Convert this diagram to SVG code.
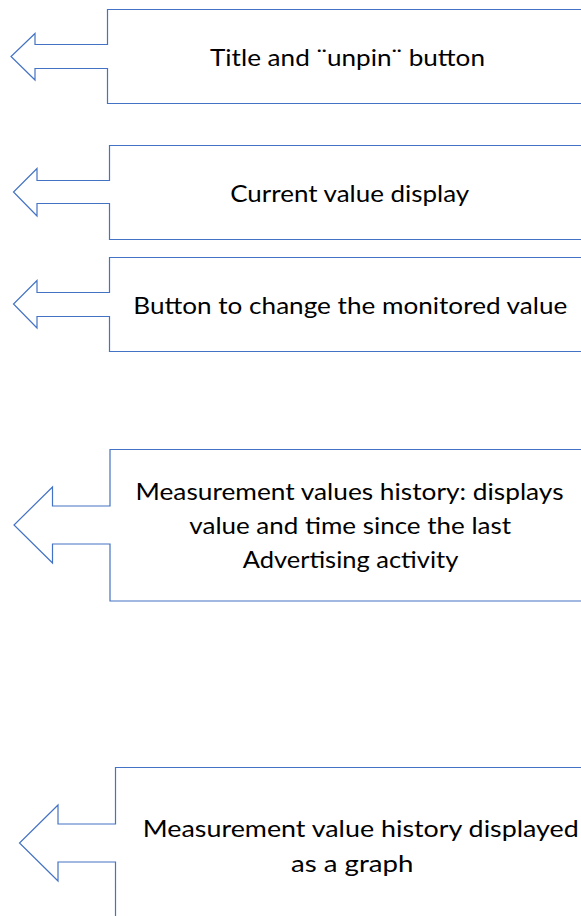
<svg xmlns="http://www.w3.org/2000/svg" width="581" height="916" viewBox="0 0 581 916">
<style>
.co{fill:#ffffff;stroke:#4472C4;stroke-width:1.2;stroke-linejoin:miter}
.t{font-family:"Lato","Liberation Sans",sans-serif;font-size:24px;fill:#000000;text-anchor:middle}
</style>
<rect width="581" height="916" fill="#ffffff"/>
<g id="connectors"></g>
<g id="callout1">
<path class="co" d="M 600 9.5 H 107.5 V 44.5 H 35 V 33.5 L 11 56.5 L 35 80 V 68.5 H 107.5 V 103.5 H 600"/>
<text class="t" x="347.5" y="66" textLength="275" lengthAdjust="spacingAndGlyphs">Title and ¨unpin¨ button</text>
</g>
<g id="callout2">
<path class="co" d="M 600 145.5 H 109.5 V 180.5 H 37 V 168.5 L 13.5 192 L 37 216 V 203.5 H 109.5 V 239.5 H 600"/>
<text class="t" x="349.7" y="202.3" textLength="239" lengthAdjust="spacingAndGlyphs">Current value display</text>
</g>
<g id="callout3">
<path class="co" d="M 600 257.5 H 109.5 V 292.5 H 37 V 280.5 L 13.5 304 L 37 328 V 316.5 H 109.5 V 351.5 H 600"/>
<text class="t" x="350.3" y="314" textLength="434" lengthAdjust="spacingAndGlyphs">Button to change the monitored value</text>
</g>
<g id="callout4">
<path class="co" d="M 600 449.5 H 110 V 506 H 52.5 V 487 L 14 525 L 52.5 563 V 544 H 110 V 601 H 600"/>
<text class="t" x="349.5" y="500.3" textLength="428" lengthAdjust="spacingAndGlyphs">Measurement values history: displays</text>
<text class="t" x="350.2" y="534.3" textLength="321.7" lengthAdjust="spacingAndGlyphs">value and time since the last</text>
<text class="t" x="350.5" y="568.3" textLength="215.6" lengthAdjust="spacingAndGlyphs">Advertising activity</text>
</g>
<g id="callout5">
<path class="co" d="M 600 767.5 H 115.5 V 824 H 58 V 805 L 19.5 843 L 58 881 V 862 H 115.5 V 930"/>
<text class="t" x="360.8" y="836.7" textLength="436" lengthAdjust="spacingAndGlyphs">Measurement value history displayed</text>
<text class="t" x="352.2" y="871.7" textLength="122.3" lengthAdjust="spacingAndGlyphs">as a graph</text>
</g>
</svg>
